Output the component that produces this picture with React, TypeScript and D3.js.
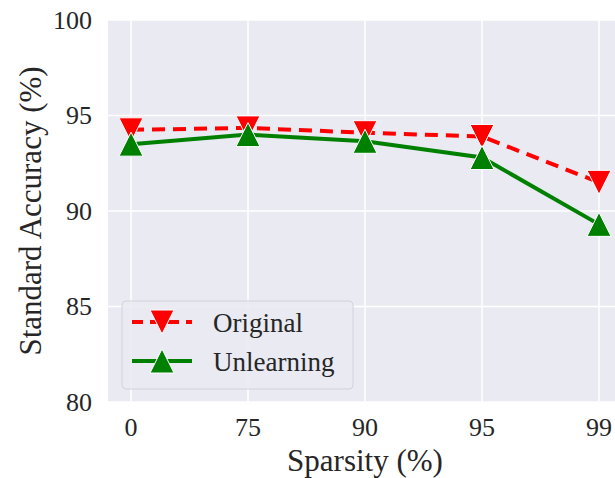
import React from "react";
import * as d3 from "d3";

// Sparsity levels on the x axis and accuracy per model
const sparsity = ["0", "75", "90", "95", "99"];
const originalAcc = [94.25, 94.35, 94.1, 93.9, 91.5];
const unlearningAcc = [93.5, 94.0, 93.65, 92.8, 89.3];
const yTicks = [80, 85, 90, 95, 100];

const W = 615;
const H = 478;
const plot = { left: 108, right: 622, top: 20, bottom: 402 };
const FONT = "'Liberation Serif', 'Times New Roman', serif";
const TEXT = "#262626";

function triangle(cx: number, cy: number, r: number, down: boolean) {
  const s = down ? -1 : 1;
  return `M${cx},${cy - s * r}L${cx - r},${cy + s * r}L${cx + r},${cy + s * r}Z`;
}

export default function App() {
  const x = d3.scalePoint<string>().domain(sparsity).range([131, 599]);
  const y = d3.scaleLinear().domain([80, 100]).range([plot.bottom, plot.top]);
  const line = d3
    .line<number>()
    .x((_, i) => x(sparsity[i]) as number)
    .y((d) => y(d));

  const series = [
    { name: "Original", values: originalAcc, color: "#ff0000", dash: "13,8", down: true },
    { name: "Unlearning", values: unlearningAcc, color: "#008000", dash: undefined, down: false },
  ];

  const legend = { x: 122, y: 301, w: 231, h: 88 };
  const MR = 12;

  return (
    <svg
      width={W}
      height={H}
      style={{ position: "absolute", left: 0, top: 0, background: "#fff" }}
      fontFamily={FONT}
    >
      <defs>
        <clipPath id="plotClip">
          <rect x={plot.left} y={plot.top} width={plot.right - plot.left} height={plot.bottom - plot.top} />
        </clipPath>
      </defs>
      <rect
        x={plot.left}
        y={plot.top}
        width={plot.right - plot.left}
        height={plot.bottom - plot.top}
        fill="#eaeaf2"
      />
      {/* grid */}
      {yTicks.map((t) => (
        <line key={"gy" + t} x1={plot.left} x2={plot.right} y1={y(t)} y2={y(t)} stroke="#fff" strokeWidth={1.5} />
      ))}
      {sparsity.map((s) => (
        <line key={"gx" + s} x1={x(s)} x2={x(s)} y1={plot.top} y2={plot.bottom} stroke="#fff" strokeWidth={1.5} />
      ))}

      {/* series */}
      <g clipPath="url(#plotClip)">
        {series.map((s) => (
          <g key={s.name}>
            <path d={line(s.values) || ""} fill="none" stroke={s.color} strokeWidth={4} strokeDasharray={s.dash} />
            {s.values.map((v, i) => (
              <path
                key={i}
                d={triangle(x(sparsity[i]) as number, y(v), MR, s.down)}
                fill={s.color}
                stroke="#fff"
                strokeWidth={1}
              />
            ))}
          </g>
        ))}
      </g>

      {/* y tick labels */}
      {yTicks.map((t) => (
        <text key={"ty" + t} x={92} y={y(t)} dy="0.34em" textAnchor="end" fontSize={26} fill={TEXT}>
          {t}
        </text>
      ))}
      {/* x tick labels */}
      {sparsity.map((s) => (
        <text key={"tx" + s} x={x(s)} y={436} textAnchor="middle" fontSize={26} fill={TEXT}>
          {s}
        </text>
      ))}

      <text x={(plot.left + plot.right) / 2} y={471} textAnchor="middle" fontSize={31} fill={TEXT}>
        Sparsity (%)
      </text>
      <text
        transform={`translate(41,${(plot.top + plot.bottom) / 2}) rotate(-90)`}
        textAnchor="middle"
        fontSize={31}
        fill={TEXT}
      >
        Standard Accuracy (%)
      </text>

      {/* legend */}
      <rect
        x={legend.x}
        y={legend.y}
        width={legend.w}
        height={legend.h}
        rx={4}
        fill="#eaeaf2"
        fillOpacity={0.9}
        stroke="#d2d2da"
        strokeWidth={1}
      />
      {series.map((s, i) => {
        const cy = 322 + i * 39;
        return (
          <g key={"lg" + s.name}>
            <line x1={132} x2={192} y1={cy} y2={cy} stroke={s.color} strokeWidth={4} strokeDasharray={s.dash ? "11,7" : undefined} />
            <path d={triangle(162, cy, MR, s.down)} fill={s.color} stroke="#fff" strokeWidth={1} />
            <text x={213} y={cy + 10} fontSize={27} fill={TEXT}>
              {s.name}
            </text>
          </g>
        );
      })}
    </svg>
  );
}
